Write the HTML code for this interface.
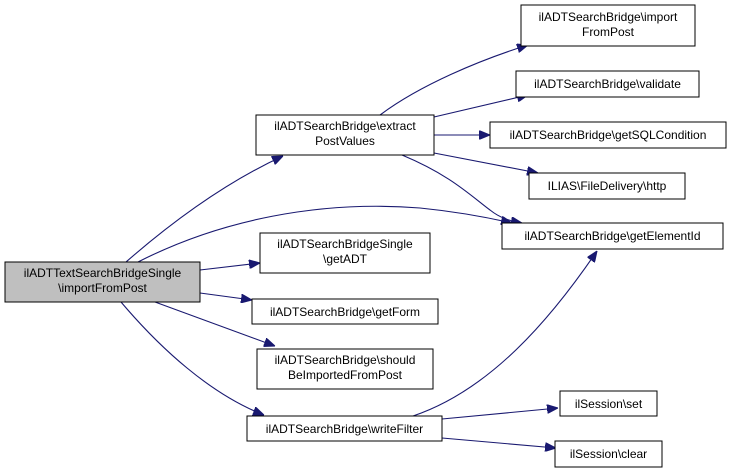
<!DOCTYPE html>
<html><head><meta charset="utf-8"><style>
html,body{margin:0;padding:0;background:#fff;width:732px;height:473px;overflow:hidden}
svg{display:block}
text{font-family:"Liberation Sans",Arial,sans-serif;font-size:12px;fill:#000;text-anchor:middle}
rect{fill:#fff;stroke:#000;stroke-width:1}
path{fill:none;stroke:#191970;stroke-width:1.1}
</style></head><body>
<svg width="732" height="473" viewBox="0 0 732 473" xmlns="http://www.w3.org/2000/svg">
<defs>
<marker id="a" markerWidth="11" markerHeight="9" refX="11" refY="4.5" orient="auto" markerUnits="userSpaceOnUse">
<polygon points="0,0 11,4.5 0,9" fill="#191970" stroke="#191970"/>
</marker>
</defs>
<path d="M126,262 C165,228 220,185 283,156" marker-end="url(#a)"/>
<path d="M138,262 C220,220 320,200 420,208 C460,212 490,218 512,223" marker-end="url(#a)"/>
<path d="M200,270 L260,263" marker-end="url(#a)"/>
<path d="M200,293 L252,300" marker-end="url(#a)"/>
<path d="M155,302 L275,346" marker-end="url(#a)"/>
<path d="M121,302 C160,348 210,394 264,415" marker-end="url(#a)"/>
<path d="M380,115 C420,85 480,60 528,45" marker-end="url(#a)"/>
<path d="M434,117 L528,95" marker-end="url(#a)"/>
<path d="M434,135 L490,135" marker-end="url(#a)"/>
<path d="M434,153 L538,173" marker-end="url(#a)"/>
<path d="M402,155 C450,175 470,195 490,210 C500,218 510,221 522,223" marker-end="url(#a)"/>
<path d="M413,416 C490,390 550,320 597,251" marker-end="url(#a)"/>
<path d="M442,419 L558,408" marker-end="url(#a)"/>
<path d="M442,438 L556,448" marker-end="url(#a)"/>
<rect x="5" y="262" width="195" height="40" style="fill:#bfbfbf"/>
<text x="102.5" y="277">ilADTTextSearchBridgeSingle</text>
<text x="102.5" y="292">\importFromPost</text>
<rect x="256" y="115" width="178" height="40"/>
<text x="345" y="130">ilADTSearchBridge\extract</text>
<text x="345" y="145">PostValues</text>
<rect x="260" y="233" width="170" height="40"/>
<text x="345" y="248">ilADTSearchBridgeSingle</text>
<text x="345" y="263">\getADT</text>
<rect x="252" y="299" width="186" height="25"/>
<text x="345" y="316">ilADTSearchBridge\getForm</text>
<rect x="257" y="349" width="176" height="40"/>
<text x="345" y="364">ilADTSearchBridge\should</text>
<text x="345" y="379">BeImportedFromPost</text>
<rect x="247" y="416" width="195" height="25"/>
<text x="344.5" y="433">ilADTSearchBridge\writeFilter</text>
<rect x="521" y="5" width="174" height="41"/>
<text x="608" y="21">ilADTSearchBridge\import</text>
<text x="608" y="36">FromPost</text>
<rect x="516" y="71" width="183" height="26"/>
<text x="607.5" y="88">ilADTSearchBridge\validate</text>
<rect x="490" y="122" width="236" height="26"/>
<text x="608" y="139">ilADTSearchBridge\getSQLCondition</text>
<rect x="529" y="173" width="156" height="26"/>
<text x="607" y="190">ILIAS\FileDelivery\http</text>
<rect x="502" y="223" width="221" height="26"/>
<text x="612.5" y="240">ilADTSearchBridge\getElementId</text>
<rect x="560" y="391" width="97" height="25"/>
<text x="608.5" y="408">ilSession\set</text>
<rect x="555" y="441" width="107" height="26"/>
<text x="608.5" y="458">ilSession\clear</text>
</svg>
</body></html>
